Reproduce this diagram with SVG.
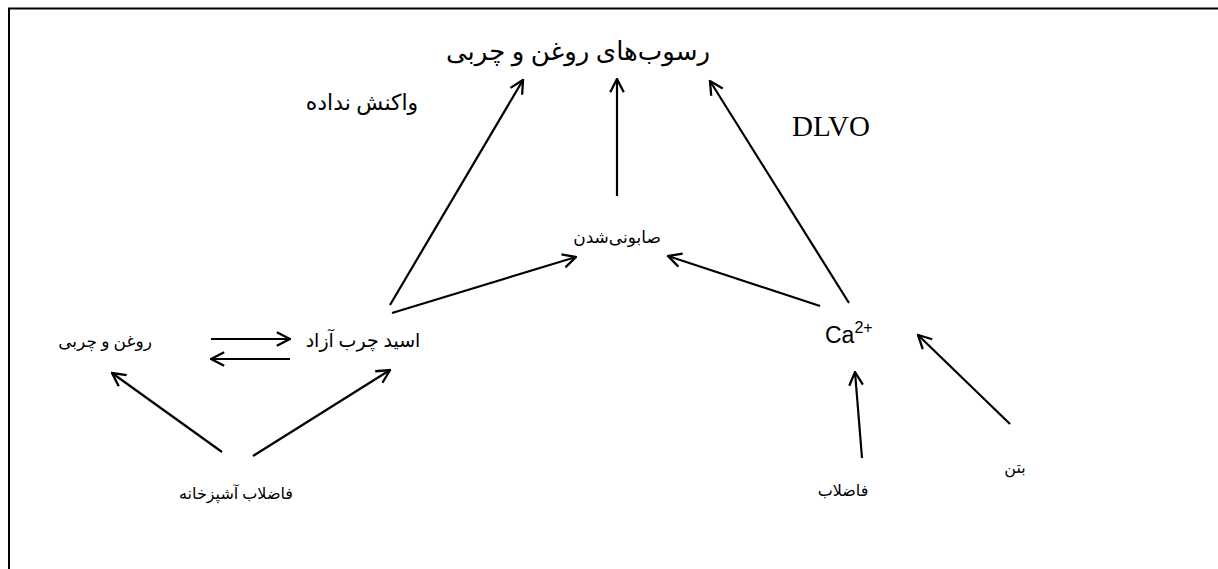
<svg xmlns="http://www.w3.org/2000/svg" width="1218" height="569" viewBox="0 0 1218 569">
<style>
.t{font-family:"Liberation Serif","DejaVu Sans",serif;fill:#000;text-anchor:middle}
.c line{stroke:#000;stroke-width:2.2;fill:none;marker-end:url(#h)}
</style>
<defs>
<marker id="h" viewBox="0 0 20 20" refX="18.5" refY="10" markerWidth="17" markerHeight="17" markerUnits="userSpaceOnUse" orient="auto">
<path d="M3,2 L18.5,10 L3,18" fill="none" stroke="#000" stroke-width="2.7"/>
</marker>
</defs>
<rect width="1218" height="569" fill="#fff"/>
<path d="M9,569 V8.5 H1218" fill="none" stroke="#000" stroke-width="2"/>
<g id="n-title"><text class="t" x="578" y="60" font-size="26" direction="rtl">رسوب‌های روغن و چربی</text></g>
<g id="n-unreacted"><text class="t" x="362" y="110" font-size="22" direction="rtl">واکنش نداده</text></g>
<g id="n-dlvo"><text class="t" x="831" y="136" font-size="29">DLVO</text></g>
<g id="n-sapon"><text class="t" x="617" y="243" font-size="17" direction="rtl">صابونی‌شدن</text></g>
<g id="n-fog"><text class="t" x="105" y="347" font-size="17" direction="rtl">روغن و چربی</text></g>
<g id="n-ffa"><text class="t" x="363" y="347" font-size="19" direction="rtl">اسید چرب آزاد</text></g>
<g id="n-ca"><text x="825" y="343" font-family="'Liberation Sans',Arial,sans-serif" font-size="23">Ca<tspan dy="-10" font-size="16">2+</tspan></text></g>
<g id="n-kitchen"><text class="t" x="236" y="499" font-size="16" direction="rtl">فاضلاب آشپزخانه</text></g>
<g id="n-ww"><text class="t" x="843" y="496" font-size="16" direction="rtl">فاضلاب</text></g>
<g id="n-concrete"><text class="t" x="1015" y="473" font-size="16" direction="rtl">بتن</text></g>
<g id="connectors" class="c">
<line x1="390" y1="305" x2="523" y2="80"/>
<line x1="617" y1="196" x2="617" y2="79"/>
<line x1="849" y1="303" x2="710" y2="81"/>
<line x1="392" y1="313" x2="576" y2="257"/>
<line x1="820" y1="306" x2="668" y2="256"/>
<line x1="211" y1="339" x2="290" y2="339"/>
<line x1="290" y1="359" x2="211" y2="359"/>
<line x1="222" y1="452" x2="112" y2="373"/>
<line x1="253" y1="456" x2="390" y2="370"/>
<line x1="862" y1="458" x2="855" y2="372"/>
<line x1="1010" y1="424" x2="918" y2="335"/>
</g>
</svg>
